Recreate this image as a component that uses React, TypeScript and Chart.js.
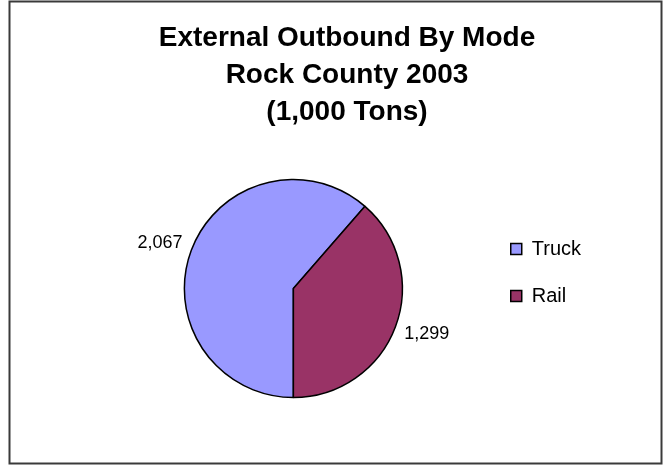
import { useEffect, useRef } from 'react';
import { Chart, registerables } from 'chart.js';

Chart.register(...registerables);

const categories = ['Truck', 'Rail'];
const tons = [2067, 1299];
const sliceColors = ['#9999FF', '#993366'];
const titleLines = ['External Outbound By Mode', 'Rock County 2003', '(1,000 Tons)'];

const FONT = "'Liberation Sans', Arial, Helvetica, sans-serif";

const framePlugin = {
  id: 'frame',
  beforeDraw(chart: any) {
    const ctx = chart.ctx;
    ctx.save();
    ctx.fillStyle = '#ffffff';
    ctx.fillRect(0, 0, chart.width, chart.height);
    ctx.strokeStyle = '#3a3a3a';
    ctx.lineWidth = 2;
    ctx.strokeRect(9.5, 1.5, 652, 462);
    ctx.restore();
  },
};

const sliceLabelPlugin = {
  id: 'sliceLabels',
  afterDatasetsDraw(chart: any) {
    const ctx = chart.ctx;
    const meta = chart.getDatasetMeta(0);
    const values = chart.data.datasets[0].data as number[];
    ctx.save();
    ctx.font = `18px ${FONT}`;
    ctx.fillStyle = '#000';
    ctx.textAlign = 'center';
    ctx.textBaseline = 'middle';
    meta.data.forEach((arc: any, i: number) => {
      const { x, y, startAngle, endAngle, outerRadius } = arc.getProps(
        ['x', 'y', 'startAngle', 'endAngle', 'outerRadius'],
        true
      );
      const mid = (startAngle + endAngle) / 2;
      const c = Math.cos(mid);
      const s = Math.sin(mid);
      const text = values[i].toLocaleString('en-US');
      const w = ctx.measureText(text).width;
      const tx = x + c * (outerRadius + 20) + Math.sign(c) * (w / 2 - 10);
      const ty = y + s * (outerRadius + 20);
      ctx.fillText(text, tx, ty);
    });
    ctx.restore();
  },
};

export default function App() {
  const ref = useRef<HTMLCanvasElement>(null);

  useEffect(() => {
    const chart = new Chart(ref.current as HTMLCanvasElement, {
      type: 'pie',
      data: {
        labels: categories,
        datasets: [
          {
            data: tons,
            backgroundColor: sliceColors,
            borderColor: '#000000',
            borderWidth: 1.5,
            rotation: 180,
            radius: 109,
            clip: false,
          } as any,
        ],
      },
      options: {
        responsive: false,
        animation: false,
        devicePixelRatio: 1,
        layout: { padding: { left: 103, right: 79, top: 0, bottom: 100 } },
        plugins: {
          title: {
            display: true,
            text: titleLines,
            color: '#000000',
            font: { family: FONT, size: 28, weight: 'bold', lineHeight: 37 / 28 },
            padding: { top: 20, bottom: 81 },
          },
          legend: {
            position: 'right',
            align: 'start',
            fullSize: false,
            labels: {
              color: '#000000',
              font: { family: FONT, size: 20 },
              boxWidth: 11,
              boxHeight: 11,
              padding: 27,
            },
          },
          tooltip: { enabled: false },
        },
      } as any,
      plugins: [framePlugin, sliceLabelPlugin],
    });
    return () => chart.destroy();
  }, []);

  return (
    <div style={{ position: 'absolute', left: 0, top: 0 }}>
      <canvas ref={ref} width={670} height={465} style={{ display: 'block' }} />
    </div>
  );
}
